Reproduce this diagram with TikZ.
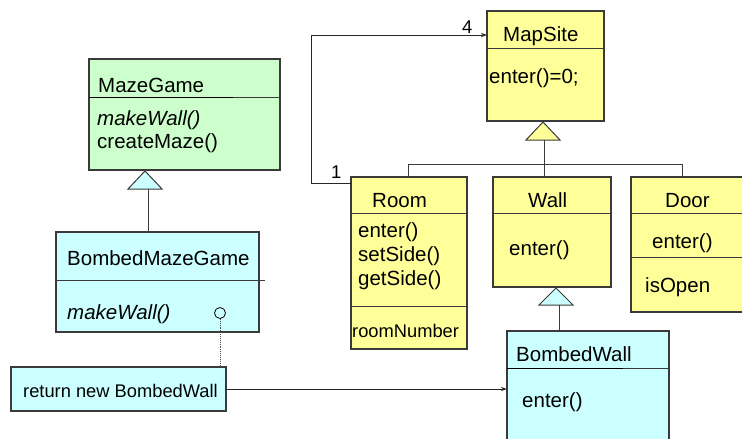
\documentclass[tikz,border=0pt]{standalone}
\usepackage{fontspec}
\setmainfont{Liberation Sans}
\usetikzlibrary{arrows.meta,calc}
\definecolor{boxgreen}{HTML}{CCFFCC}
\definecolor{boxcyan}{HTML}{CCFFFF}
\definecolor{boxyellow}{HTML}{FFFF99}
\definecolor{edge}{HTML}{3A3A3A}

\begin{document}
\begin{tikzpicture}[x=1pt,y=-1pt,
  cls/.style={draw=edge,line width=1.1pt,anchor=north west,inner sep=0pt,outer sep=0pt},
  txt/.style={anchor=base west,inner sep=0pt,font=\fontsize{20.5}{24}\selectfont},
  itxt/.style={txt,font=\fontsize{20.5}{24}\selectfont\itshape},
  small/.style={anchor=base west,inner sep=0pt,font=\fontsize{18.3}{22}\selectfont},
  mult/.style={anchor=base west,inner sep=0pt,font=\fontsize{18.5}{22}\selectfont},
  divider/.style={draw=edge,line width=1pt},
  link/.style={draw=black!85,line width=0.9pt},
  gen/.style={draw=edge,line width=1pt},
]
\useasboundingbox (0,0) rectangle (742,439);
\clip (0,0) rectangle (742,439);

% ---------- class boxes ----------
\node[cls,fill=boxgreen,minimum width=191,minimum height=111] (mazegame) at (89,59) {};
\node[cls,fill=boxcyan,minimum width=203,minimum height=100] (bmazegame) at (56,232) {};
\node[cls,fill=boxcyan,minimum width=215,minimum height=44] (ret) at (11,367) {};
\node[cls,fill=boxyellow,minimum width=117,minimum height=110] (mapsite) at (487,11) {};
\node[cls,fill=boxyellow,minimum width=116,minimum height=172] (room) at (351,177) {};
\node[cls,fill=boxyellow,minimum width=118,minimum height=110] (wall) at (493,177) {};
\node[cls,fill=boxyellow,minimum width=129,minimum height=135] (door) at (631,177) {};
\node[cls,fill=boxcyan,minimum width=162,minimum height=129] (bwall) at (507,331) {};

% ---------- compartment dividers ----------
\draw[divider] ($(mazegame.north west)+(0,38)$) -- ($(mazegame.north east)+(0,38)$);
\draw[draw=black,line width=1pt] ($(mazegame.north west)+(0,38)$) -- ++(144,0);
\draw[divider] ($(bmazegame.north west)+(0,48)$) -- ($(bmazegame.north east)+(6,48)$);
\draw[divider] ($(mapsite.north west)+(0,37)$) -- ($(mapsite.north east)+(0,37)$);
\draw[divider] ($(room.north west)+(0,36)$) -- ($(room.north east)+(0,36)$);
\draw[divider] ($(room.north west)+(0,129)$) -- ($(room.north east)+(0,129)$);
\draw[divider] ($(wall.north west)+(0,36)$) -- ($(wall.north east)+(0,36)$);
\draw[divider] ($(door.north west)+(0,36)$) -- ($(door.north east)+(0,36)$);
\draw[divider] ($(door.north west)+(0,80)$) -- ($(door.north east)+(0,80)$);
\draw[divider] ($(bwall.north west)+(0,37)$) -- ($(bwall.north east)+(0,37)$);
\draw[draw=black,line width=1pt] ($(bwall.north west)+(0,37)$) -- ++(116,0);

% ---------- texts ----------
\node[txt] (mgname) at (98,92) {MazeGame};
\node[itxt] (mgm1) at (97,125) {makeWall()};
\node[txt] (mgm2) at (97,148) {createMaze()};

\node[txt] (bmgname) at (67,265) {BombedMazeGame};
\node[itxt] (bmgm1) at (67,319) {makeWall()};

\node[small] (rettext) at (23,397) {return new BombedWall};

\node[txt] (msname) at (503,41) {MapSite};
\node[txt] (msm1) at (489,83) {enter()=0;};

\node[txt] (roomname) at (372,207) {Room};
\node[txt] (roomm1) at (358,237) {enter()};
\node[txt] (roomm2) at (358,261) {setSide()};
\node[txt] (roomm3) at (358,285) {getSide()};
\node[small] (roomattr) at (352,337) {roomNumber};

\node[txt] (wallname) at (528,207) {Wall};
\node[txt] (wallm1) at (509,255) {enter()};

\node[txt] (doorname) at (665,207) {Door};
\node[txt] (doorm1) at (652,248) {enter()};
\node[txt] (doorattr) at (645,292) {isOpen};

\node[txt] (bwname) at (516,361) {BombedWall};
\node[txt] (bwm1) at (522,407) {enter()};

% ---------- generalisation: MazeGame <- BombedMazeGame ----------
\coordinate (mgapex) at (145,171);
\draw[gen,fill=boxcyan] (mgapex) -- ++(-17,18) -- ++(34,0) -- cycle;
\draw[gen] ($(bmazegame.north west)+(92,0)$) -- ++(0,-43);

% ---------- generalisation: MapSite <- Room, Wall, Door ----------
\coordinate (msapex) at (543,122);
\draw[gen,fill=boxyellow] (msapex) -- ++(-17,18) -- ++(34,0) -- cycle;
\draw[gen] ($(wall.north west)+(51,0)$) -- ++(0,-37);
\draw[gen] ($(room.north west)+(57,0)$) -- ++(0,-13) -| ($(door.north west)+(51,0)$);

% ---------- generalisation: Wall <- BombedWall ----------
\coordinate (wapex) at (556,288);
\draw[gen,fill=boxcyan] (wapex) -- ++(-17,17) -- ++(34,0) -- cycle;
\draw[gen] ($(bwall.north west)+(52,0)$) -- ++(0,-26);

% ---------- association Room -> MapSite ----------
\draw[link,-{Stealth[length=6pt,width=4pt]}]
  ($(room.north west)+(0,6)$) -- ++(-40,0) |- ($(mapsite.north west)+(0,24)$);
\node[mult] (m1) at (331,178) {1};
\node[mult] (m4) at (462,33) {4};

% ---------- note on makeWall() ----------
\node[circle,draw=black,line width=0.8pt,minimum size=11pt,inner sep=0pt] (hook) at (220,313) {};
\draw[black!70,line width=0.9pt,densely dotted] (hook.south) -- (hook.south |- ret.north);
\draw[link,-{Stealth[length=6pt,width=4pt]}] (ret.east) -- (ret.east -| bwall.west);
\end{tikzpicture}
\end{document}
